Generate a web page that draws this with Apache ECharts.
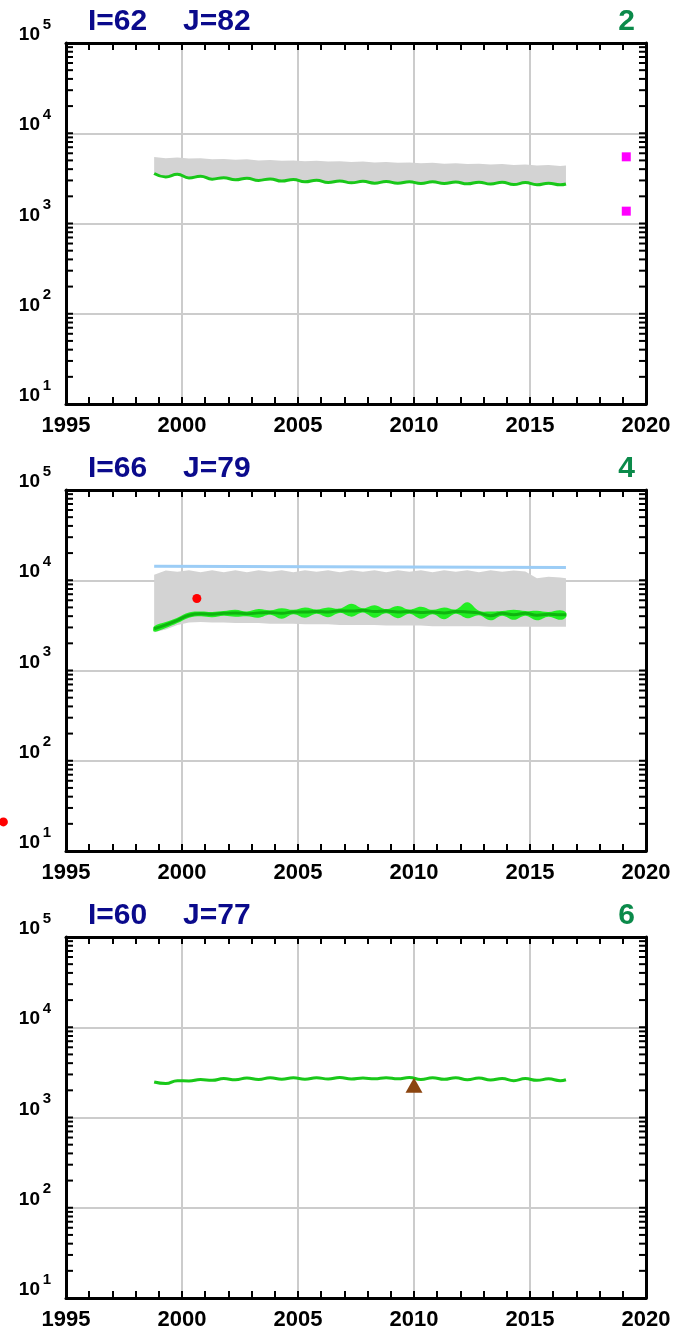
<!DOCTYPE html>
<html>
<head>
<meta charset="utf-8">
<script src="https://cdn.jsdelivr.net/npm/echarts@6/dist/echarts.min.js"></script>
<style>
html, body { margin: 0; padding: 0; background: #fff; }
#chart { width: 693px; height: 1333px; }
</style>
</head>
<body>
<div id="chart"></div>
<script>
// time axis of the model curves (fraction of year)
var years = [1998.8, 1999.3, 1999.8, 2000.3, 2000.8, 2001.3, 2001.8, 2002.3, 2002.8, 2003.3,
             2003.8, 2004.3, 2004.8, 2005.3, 2005.8, 2006.3, 2006.8, 2007.3, 2007.8, 2008.3,
             2008.8, 2009.3, 2009.8, 2010.3, 2010.8, 2011.3, 2011.8, 2012.3, 2012.8, 2013.3,
             2013.8, 2014.3, 2014.8, 2015.3, 2015.8, 2016.3, 2016.55];

// panel 1  (I=62 J=82)
var green1 = [3580, 3280, 3510, 3200, 3340, 3100, 3220, 3050, 3180, 3000,
              3120, 2950, 3080, 2900, 3020, 2850, 2960, 2820, 2930, 2800,
              2920, 2790, 2900, 2780, 2900, 2770, 2880, 2750, 2870, 2740,
              2860, 2700, 2840, 2690, 2800, 2680, 2740];
var band1Top = [5470, 5300, 5400, 5250, 5300, 5150, 5200, 5100, 5150, 5000,
                5050, 4950, 5000, 4900, 4950, 4850, 4900, 4800, 4850, 4750,
                4800, 4700, 4750, 4650, 4700, 4600, 4650, 4550, 4600, 4500,
                4550, 4450, 4500, 4400, 4450, 4350, 4400];
var pinkX = [2019.15, 2019.15];
var pinkY = [5480, 1370];

// panel 2  (I=66 J=79)
var green2 = [2900, 3200, 3600, 4100, 4250, 4200, 4300, 4350, 4250, 4350,
              4400, 4300, 4450, 4450, 4500, 4450, 4600, 4550, 4650, 4500,
              4550, 4450, 4500, 4400, 4450, 4350, 4500, 4450, 4350, 4050,
              4300, 4150, 4300, 4100, 4200, 4150, 4150];
var env2Hi = [3100, 3450, 3850, 4400, 4500, 4450, 4550, 4700, 4500, 4800,
              4650, 4900, 4700, 5000, 4750, 5000, 4850, 5500, 4900, 5300,
              4800, 5200, 4750, 5100, 4700, 5000, 4750, 5700, 4600, 4500,
              4550, 4700, 4550, 4600, 4450, 4650, 4400];
var env2Lo = [2700, 2950, 3350, 3850, 4000, 3900, 4050, 3950, 4000, 3850,
              4150, 3750, 4200, 3850, 4250, 3900, 4350, 3950, 4400, 3850,
              4300, 3800, 4250, 3750, 4200, 3700, 4250, 3800, 4100, 3600,
              4050, 3650, 4050, 3600, 3950, 3650, 3900];
var band2Top = [11500, 12800, 12400, 12900, 12300, 12900, 12300, 12900, 12300, 12900,
                12400, 12900, 12300, 12900, 12400, 12900, 12300, 12900, 12400, 12900,
                12300, 12900, 12400, 12900, 12300, 12900, 12400, 12900, 12300, 12900,
                12400, 12800, 12500, 10500, 10900, 10700, 10500];
var band2Bot = [2650, 2850, 3200, 3400, 3450, 3400, 3400, 3350, 3350, 3350,
                3300, 3300, 3300, 3250, 3250, 3250, 3200, 3200, 3200, 3200,
                3150, 3150, 3150, 3150, 3100, 3100, 3100, 3100, 3100, 3050,
                3050, 3050, 3050, 3050, 3050, 3050, 3050];
var blueX = [1998.8, 2016.55];
var blueY = [14300, 13850];
var redX = [2000.64, 1992.3];
var redY = [6270, 21];

// panel 3  (I=60 J=77)
var green3 = [2470, 2380, 2560, 2540, 2640, 2580, 2700, 2620, 2740, 2640,
              2760, 2660, 2750, 2660, 2760, 2670, 2770, 2670, 2740, 2680,
              2760, 2680, 2770, 2640, 2760, 2650, 2760, 2620, 2740, 2600,
              2700, 2560, 2700, 2580, 2680, 2560, 2620];
var triX = [2010];
var triY = [2280];

var titleI = ['I=62', 'I=66', 'I=60'];
var titleJ = ['J=82', 'J=79', 'J=77'];
var titleN = ['2', '4', '6'];

var panelTop = [43, 490, 937];
var font = '"Liberation Sans", Arial, sans-serif';

function pairs(xs, ys) {
    return xs.map(function (x, i) { return [x, ys[i]]; });
}

// minor log ticks 2..9 of every decade, drawn on both side axes
var logTicks = [];
[10, 100, 1000, 10000].forEach(function (d) {
    for (var k = 1; k < 10; k++) logTicks.push(d * k);
});
logTicks.push(100000);

function tickSeries(p) {
    return {
        type: 'custom', xAxisIndex: 2 * p, yAxisIndex: 3 * p, silent: true, z: 5, clip: false,
        data: logTicks.map(function (v) { return [1995, v]; }),
        renderItem: function (params, api) {
            var y = api.coord([1995, api.value(1)])[1];
            var cs = params.coordSys;
            return {
                type: 'group',
                children: [
                    { type: 'line', shape: { x1: cs.x, y1: y, x2: cs.x + 7, y2: y }, style: { stroke: '#000', lineWidth: 2 } },
                    { type: 'line', shape: { x1: cs.x + cs.width - 7, y1: y, x2: cs.x + cs.width, y2: y }, style: { stroke: '#000', lineWidth: 2 } }
                ]
            };
        }
    };
}

function bandSeries(p, hi, lo, color, smooth, z) {
    return {
        type: 'custom', xAxisIndex: 2 * p, yAxisIndex: 3 * p, silent: true, z: z,
        data: [[years[0], hi[0]]],
        renderItem: function (params, api) {
            var pts = [];
            for (var i = 0; i < years.length; i++) pts.push(api.coord([years[i], hi[i]]));
            for (var j = years.length - 1; j >= 0; j--) pts.push(api.coord([years[j], lo[j]]));
            return { type: 'polygon', shape: { points: pts, smooth: smooth }, style: { fill: color } };
        }
    };
}

function lineSeries(p, xs, ys, color, smooth) {
    return {
        type: 'line', xAxisIndex: 2 * p, yAxisIndex: 3 * p, data: pairs(xs, ys),
        smooth: smooth, symbol: 'none', silent: true, z: 4,
        lineStyle: { color: color, width: 3 }
    };
}

function scatterSeries(p, xs, ys, symbol, size, color) {
    return {
        type: 'scatter', xAxisIndex: 2 * p, yAxisIndex: 3 * p, data: pairs(xs, ys),
        symbol: symbol, symbolSize: size, clip: false, silent: true, z: 6,
        itemStyle: { color: color, opacity: 1 }
    };
}

var grids = [], xAxes = [], yAxes = [], titles = [];
panelTop.forEach(function (t, p) {
    grids.push({ left: 66, width: 580, top: t, height: 361 });
    var xBase = {
        type: 'value', gridIndex: p, min: 1995, max: 2020, interval: 5,
        axisLine: { lineStyle: { color: '#000', width: 3 } },
        axisTick: { inside: true, length: 7, lineStyle: { color: '#000', width: 2 } },
        minorTick: { show: true, splitNumber: 5, length: 7, lineStyle: { color: '#000', width: 2 } }
    };
    xAxes.push(Object.assign({}, xBase, {
        position: 'bottom',
        axisLabel: { fontFamily: font, fontSize: 22, fontWeight: 'bold', color: '#000', margin: 11,
            formatter: function (v) { return String(v); } },
        splitLine: { show: true, showMinLine: false, showMaxLine: false, lineStyle: { color: '#cccccc', width: 2 } }
    }));
    xAxes.push(Object.assign({}, xBase, {
        position: 'top', axisLabel: { show: false }, splitLine: { show: false }
    }));
    var yBase = { type: 'log', logBase: 10, gridIndex: p, min: 10, max: 100000, axisTick: { show: false } };
    // left axis: line, grid lines and the "10" of each label
    yAxes.push(Object.assign({}, yBase, {
        position: 'left',
        axisLine: { lineStyle: { color: '#000', width: 3 } },
        splitLine: { show: true, showMinLine: false, showMaxLine: false, lineStyle: { color: '#cccccc', width: 2 } },
        axisLabel: {
            margin: 26, verticalAlign: 'bottom', lineHeight: 16,
            fontFamily: font, fontSize: 19, fontWeight: 'bold', color: '#000',
            formatter: function () { return '10'; }
        }
    }));
    // second left axis only for the exponent, set higher
    yAxes.push(Object.assign({}, yBase, {
        position: 'left',
        axisLine: { show: false }, splitLine: { show: false },
        axisLabel: {
            margin: 15, verticalAlign: 'bottom', lineHeight: 37,
            fontFamily: font, fontSize: 15, fontWeight: 'bold', color: '#000',
            formatter: function (v) { return String(Math.round(Math.log10(v))); }
        }
    }));
    yAxes.push(Object.assign({}, yBase, {
        position: 'right',
        axisLine: { lineStyle: { color: '#000', width: 3 } },
        axisLabel: { show: false }, splitLine: { show: false }
    }));
    var ts = { fontFamily: font, fontSize: 30, fontWeight: 'bold', color: '#0a0a8c' };
    titles.push({ text: titleI[p], left: 83, top: t - 41, textStyle: ts });
    titles.push({ text: titleJ[p], left: 178, top: t - 41, textStyle: ts });
    titles.push({ text: titleN[p], right: 53, top: t - 41,
        textStyle: Object.assign({}, ts, { color: '#0b8a4a' }) });
});

var series = [
    bandSeries(0, band1Top, green1, '#d3d3d3', 0, 2),
    lineSeries(0, years, green1, '#19c819', 0.5),
    scatterSeries(0, pinkX, pinkY, 'rect', 9, '#ff00ff'),

    bandSeries(1, band2Top, band2Bot, '#d3d3d3', 0, 2),
    lineSeries(1, blueX, blueY, '#9ccdf6', false),
    bandSeries(1, env2Hi, env2Lo, '#22ee22', 0.4, 3),
    lineSeries(1, years, green2, '#0fb40f', 0.5),
    scatterSeries(1, redX, redY, 'circle', 9, '#ff0000'),

    lineSeries(2, years, green3, '#19c819', 0.5),
    scatterSeries(2, triX, triY, 'triangle', [17, 15], '#8b4510'),

    tickSeries(0), tickSeries(1), tickSeries(2)
];

var myChart = echarts.init(document.getElementById('chart'));
myChart.setOption({
    animation: false,
    backgroundColor: '#fff',
    title: titles,
    grid: grids,
    xAxis: xAxes,
    yAxis: yAxes,
    series: series
});
</script>
</body>
</html>
